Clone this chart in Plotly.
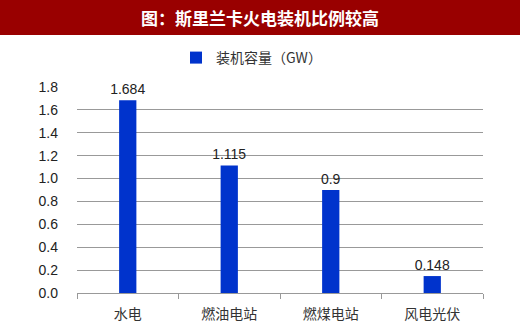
import plotly.graph_objects as go

categories = ["水电", "燃油电站", "燃煤电站", "风电光伏"]
values = [1.684, 1.115, 0.9, 0.148]
labels = ["1.684", "1.115", "0.9", "0.148"]
series_name = "装机容量（GW）"
title_text = "图：斯里兰卡火电装机比例较高"
y_ticks = [0.0, 0.2, 0.4, 0.6, 0.8, 1.0, 1.2, 1.4, 1.6, 1.8]

W, H = 520, 335
ml, mr, mt, mb = 77, 37, 87, 42
ph = H - mt - mb
pw = W - ml - mr

def py(pix):
    return (H - mb - pix) / ph

def px(pix):
    return (pix - ml) / pw

fig = go.Figure()
fig.add_trace(go.Bar(
    x=categories, y=values, name=series_name,
    marker=dict(color="#0033CC", line=dict(width=0)),
    text=labels, textposition="outside", cliponaxis=False, constraintext="none",
    textfont=dict(family="Liberation Sans, Arial", size=14, color="#222"),
    showlegend=True,
))

fig.update_layout(
    width=W, height=H,
    margin=dict(l=ml, r=mr, t=mt, b=mb),
    paper_bgcolor="white", plot_bgcolor="white",
    bargap=0.83,
    uniformtext=dict(minsize=14, mode="show"),
    font=dict(family="Liberation Sans, Arial", size=14, color="#222"),
    legend=dict(orientation="h", x=px(176), xanchor="left",
                y=py(58), yanchor="middle",
                font=dict(family="Noto Sans CJK SC", size=14, color="#333"),
                itemwidth=30),
    xaxis=dict(showline=True, linecolor="#999", linewidth=1,
               ticks="outside", tickson="boundaries", ticklen=5, tickcolor="#999",
               ticklabelstandoff=8,
               tickfont=dict(family="Noto Sans CJK SC", size=14, color="#333")),
    yaxis=dict(range=[0, 1.8], tickvals=y_ticks, ticktext=[f"{v:.1f}" for v in y_ticks],
               showgrid=True, gridcolor="#999", gridwidth=1, zeroline=False,
               showline=False, ticks="", ticklabelstandoff=18,
               tickfont=dict(family="Liberation Sans, Arial", size=14, color="#222")),
    shapes=[dict(type="rect", xref="paper", yref="paper",
                 x0=px(0), x1=px(W),
                 y0=py(35), y1=py(0), fillcolor="#990000", line=dict(width=0), layer="above")],
    annotations=[dict(text="<b>" + title_text + "</b>", xref="paper", yref="paper",
                      x=px(260), y=py(17.5), xanchor="center", yanchor="middle",
                      showarrow=False,
                      font=dict(family="Noto Sans CJK SC", size=17, color="white"))],
)

fig.write_html("out.html")
